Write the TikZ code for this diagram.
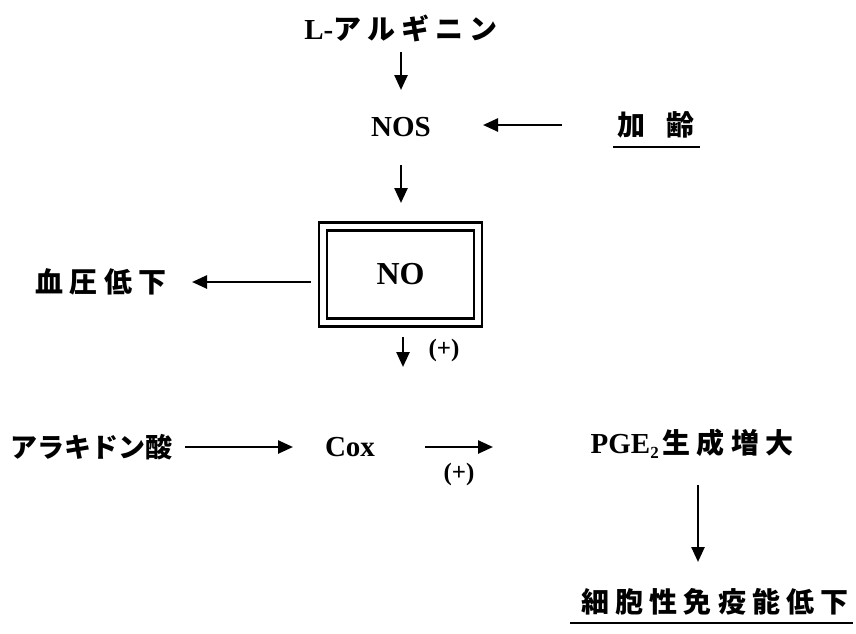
\documentclass[tikz,border=0pt]{standalone}
\usepackage{fontspec}
\setmainfont{Liberation Serif}
\newfontfamily\jp{Noto Sans CJK JP}
\newfontfamily\jpsp{Noto Sans CJK JP}[LetterSpace=22]
\usetikzlibrary{arrows.meta}
\begin{document}
\begin{tikzpicture}[x=1pt,y=-1pt,
  lat/.style={inner sep=0pt, font=\fontsize{29}{29}\selectfont\bfseries},
  jlab/.style={inner sep=0pt, font=\fontsize{28}{28}\selectfont\jp\bfseries},
  jwide/.style={inner sep=0pt, font=\fontsize{28}{28}\selectfont\jpsp\bfseries},
  plus/.style={inner sep=0pt, font=\fontsize{25}{25}\selectfont\bfseries},
  arr/.style={line width=2.5pt, -{Triangle[length=15pt,width=13pt]}},
  uline/.style={line width=2.5pt},
  dbox/.style={draw, double, line width=2.3pt, double distance=5.5pt,
    minimum width=155pt, minimum height=96pt, inner sep=0pt,
    font=\fontsize{32}{32}\selectfont\bfseries}
]
\useasboundingbox[fill=white] (0,0) rectangle (856,633);

\node[inner sep=0pt] (arg) at (401,28) {\fontsize{29}{29}\selectfont\bfseries L-\jpsp\bfseries\fontsize{28}{28}\selectfont アルギニン};
\node[lat] (nos) at (401,127) {NOS};
\node[jlab] (age) at (656,125) {加\kern22pt 齢};
\node[dbox] (no) at (400.5,274.5) {NO};
\node[jwide] (bp) at (101,282) {血圧低下};
\node[jlab, font=\fontsize{27}{27}\selectfont\jp\bfseries] (ara) at (91,447) {アラキドン酸};
\node[lat] (cox) at (350,447) {Cox};
\node[inner sep=0pt] (pge) at (692,444) {\fontsize{29}{29}\selectfont\bfseries PGE\raisebox{-5pt}{\fontsize{17}{17}\selectfont 2}\kern4pt\jpsp\bfseries\fontsize{28}{28}\selectfont 生成増大};
\node[jwide] (imm) at (715,602) {細胞性免疫能低下};
\node[plus] (p1) at (444,350) {(+)};
\node[plus] (p2) at (459,474) {(+)};
\coordinate (ax) at (698,0);
\coordinate (nx) at (403,0);

\draw[arr, shorten <=24pt, shorten >=37pt] (arg.center) -- (nos.center);
\draw[arr, shorten <=94pt, shorten >=82pt] (age.center) -- (age.center -| nos.center);
\draw[arr, shorten <=38pt, shorten >=71.5pt] (nos.center) -- (nos.center |- no.center);
\draw[arr, shorten <=90pt, shorten >=91pt] (no.center |- bp.center) -- (bp.center);
\draw[arr, shorten <=62.5pt, shorten >=80pt] (no.center -| nx) -- (cox.center -| nx);
\draw[arr, shorten <=94pt, shorten >=57pt] (ara.center) -- (cox.center);
\draw[arr, shorten <=75pt, shorten >=199pt] (cox.center) -- (cox.center -| pge.center);
\draw[arr, shorten <=41pt, shorten >=40pt] (pge.center -| ax) -- (imm.center -| ax);

\draw[uline] ([shift={(-43,22)}]age.center) -- ([shift={(44,22)}]age.center);
\draw[uline] ([shift={(-145,21)}]imm.center) -- ([shift={(138,21)}]imm.center);
\end{tikzpicture}
\end{document}
